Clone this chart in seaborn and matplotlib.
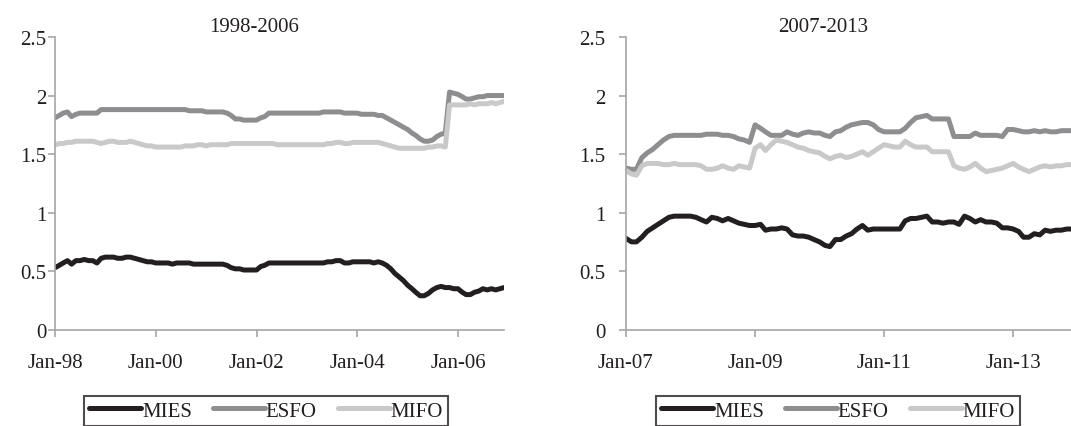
import matplotlib
matplotlib.use('Agg')
import numpy as np
import pandas as pd
import seaborn as sns
import matplotlib.pyplot as plt

# monthly values, Jan-98 .. Dec-06
mies_9806 = [0.53, 0.55, 0.57, 0.59, 0.56, 0.59, 0.59, 0.60, 0.59, 0.59, 0.57, 0.61,
             0.62, 0.62, 0.62, 0.61, 0.61, 0.62, 0.62, 0.61, 0.60, 0.59, 0.58, 0.58,
             0.57, 0.57, 0.57, 0.57, 0.56, 0.57, 0.57, 0.57, 0.57, 0.56, 0.56, 0.56,
             0.56, 0.56, 0.56, 0.56, 0.56, 0.55, 0.53, 0.52, 0.52, 0.51, 0.51, 0.51,
             0.51, 0.54, 0.55, 0.57, 0.57, 0.57, 0.57, 0.57, 0.57, 0.57, 0.57, 0.57,
             0.57, 0.57, 0.57, 0.57, 0.57, 0.58, 0.58, 0.59, 0.59, 0.57, 0.57, 0.58,
             0.58, 0.58, 0.58, 0.58, 0.57, 0.58, 0.57, 0.55, 0.52, 0.48, 0.45, 0.42,
             0.38, 0.35, 0.32, 0.29, 0.29, 0.31, 0.34, 0.36, 0.37, 0.36, 0.36, 0.35,
             0.35, 0.32, 0.30, 0.30, 0.32, 0.33, 0.35, 0.34, 0.35, 0.34, 0.35, 0.36]
esfo_9806 = [1.81, 1.83, 1.85, 1.86, 1.82, 1.84, 1.85, 1.85, 1.85, 1.85, 1.85, 1.88,
             1.88, 1.88, 1.88, 1.88, 1.88, 1.88, 1.88, 1.88, 1.88, 1.88, 1.88, 1.88,
             1.88, 1.88, 1.88, 1.88, 1.88, 1.88, 1.88, 1.88, 1.87, 1.87, 1.87, 1.87,
             1.86, 1.86, 1.86, 1.86, 1.86, 1.85, 1.83, 1.80, 1.80, 1.79, 1.79, 1.79,
             1.79, 1.81, 1.82, 1.85, 1.85, 1.85, 1.85, 1.85, 1.85, 1.85, 1.85, 1.85,
             1.85, 1.85, 1.85, 1.85, 1.86, 1.86, 1.86, 1.86, 1.86, 1.85, 1.85, 1.85,
             1.85, 1.84, 1.84, 1.84, 1.84, 1.83, 1.83, 1.81, 1.79, 1.77, 1.75, 1.73,
             1.71, 1.68, 1.66, 1.63, 1.61, 1.61, 1.62, 1.65, 1.67, 1.68, 2.03, 2.02,
             2.01, 1.99, 1.97, 1.97, 1.98, 1.99, 1.99, 2.00, 2.00, 2.00, 2.00, 2.00]
mifo_9806 = [1.58, 1.59, 1.59, 1.60, 1.60, 1.61, 1.61, 1.61, 1.61, 1.61, 1.60, 1.59,
             1.60, 1.61, 1.61, 1.60, 1.60, 1.60, 1.61, 1.60, 1.59, 1.58, 1.57, 1.57,
             1.56, 1.56, 1.56, 1.56, 1.56, 1.56, 1.56, 1.57, 1.57, 1.57, 1.58, 1.58,
             1.57, 1.58, 1.58, 1.58, 1.58, 1.58, 1.59, 1.59, 1.59, 1.59, 1.59, 1.59,
             1.59, 1.59, 1.59, 1.59, 1.59, 1.58, 1.58, 1.58, 1.58, 1.58, 1.58, 1.58,
             1.58, 1.58, 1.58, 1.58, 1.58, 1.59, 1.59, 1.60, 1.60, 1.59, 1.59, 1.60,
             1.60, 1.60, 1.60, 1.60, 1.60, 1.60, 1.59, 1.58, 1.57, 1.56, 1.55, 1.55,
             1.55, 1.55, 1.55, 1.55, 1.55, 1.56, 1.56, 1.57, 1.57, 1.56, 1.92, 1.92,
             1.92, 1.92, 1.92, 1.93, 1.92, 1.93, 1.93, 1.93, 1.94, 1.93, 1.94, 1.95]

# monthly values, Jan-07 .. Dec-13
mies_0713 = [0.78, 0.75, 0.75, 0.79, 0.84, 0.87, 0.90, 0.93, 0.96, 0.97, 0.97, 0.97,
             0.97, 0.96, 0.94, 0.92, 0.96, 0.95, 0.93, 0.95, 0.93, 0.91, 0.90, 0.89,
             0.89, 0.90, 0.85, 0.86, 0.86, 0.87, 0.86, 0.81, 0.80, 0.80, 0.79, 0.77,
             0.75, 0.72, 0.71, 0.77, 0.77, 0.80, 0.82, 0.86, 0.89, 0.85, 0.86, 0.86,
             0.86, 0.86, 0.86, 0.86, 0.93, 0.95, 0.95, 0.96, 0.97, 0.92, 0.92, 0.91,
             0.92, 0.92, 0.90, 0.97, 0.95, 0.92, 0.94, 0.92, 0.92, 0.91, 0.87, 0.87,
             0.86, 0.84, 0.79, 0.79, 0.82, 0.81, 0.85, 0.84, 0.85, 0.85, 0.86, 0.86]
esfo_0713 = [1.38, 1.37, 1.37, 1.47, 1.51, 1.54, 1.58, 1.62, 1.65, 1.66, 1.66, 1.66,
             1.66, 1.66, 1.66, 1.67, 1.67, 1.67, 1.66, 1.66, 1.65, 1.63, 1.62, 1.60,
             1.75, 1.72, 1.69, 1.66, 1.66, 1.66, 1.69, 1.67, 1.66, 1.68, 1.69, 1.68,
             1.68, 1.66, 1.65, 1.69, 1.70, 1.73, 1.75, 1.76, 1.77, 1.77, 1.75, 1.71,
             1.69, 1.69, 1.69, 1.69, 1.72, 1.77, 1.81, 1.82, 1.83, 1.80, 1.80, 1.80,
             1.80, 1.65, 1.65, 1.65, 1.65, 1.68, 1.66, 1.66, 1.66, 1.66, 1.65, 1.71,
             1.71, 1.70, 1.69, 1.69, 1.70, 1.69, 1.70, 1.69, 1.69, 1.70, 1.70, 1.70]
mifo_0713 = [1.36, 1.33, 1.32, 1.40, 1.42, 1.42, 1.42, 1.41, 1.41, 1.42, 1.41, 1.41,
             1.41, 1.41, 1.40, 1.37, 1.37, 1.38, 1.40, 1.38, 1.37, 1.40, 1.39, 1.38,
             1.55, 1.58, 1.53, 1.58, 1.62, 1.61, 1.60, 1.58, 1.56, 1.55, 1.53, 1.52,
             1.51, 1.48, 1.46, 1.48, 1.49, 1.47, 1.48, 1.50, 1.52, 1.49, 1.52, 1.55,
             1.58, 1.57, 1.56, 1.56, 1.61, 1.58, 1.56, 1.56, 1.56, 1.52, 1.52, 1.52,
             1.52, 1.40, 1.38, 1.37, 1.39, 1.42, 1.38, 1.35, 1.36, 1.37, 1.38, 1.40,
             1.42, 1.39, 1.37, 1.35, 1.37, 1.39, 1.40, 1.39, 1.40, 1.40, 1.41, 1.41]

series_names = ['MIES', 'ESFO', 'MIFO']
colors = ['#231f20', '#8e8e90', '#c9c9c9']
panels = [
    ('1998-2006', '1998-01', [mies_9806, esfo_9806, mifo_9806]),
    ('2007-2013', '2007-01', [mies_0713, esfo_0713, mifo_0713]),
]

sns.set_style('white')
plt.rcParams['font.family'] = ['Liberation Serif', 'DejaVu Serif']
plt.rcParams['text.color'] = '#231f20'
plt.rcParams['xtick.color'] = '#231f20'
plt.rcParams['ytick.color'] = '#231f20'

fig = plt.figure(figsize=(10.71, 4.27), dpi=100)
axes = [fig.add_axes([0.0514, 0.2255, 0.4192, 0.6855]),
        fig.add_axes([0.5845, 0.2255, 0.4165, 0.6855])]
legend_x = [0.2484, 0.7824]
ylabel_pad = [1, 10]

for ax, (title, start, values), lx, ypad in zip(axes, panels, legend_x, ylabel_pad):
    dates = pd.date_range(start, periods=len(values[0]), freq='MS')
    df = pd.DataFrame({
        'date': np.tile(dates, len(series_names)),
        'value': np.concatenate(values),
        'series': np.repeat(series_names, len(dates)),
    })
    sns.lineplot(data=df, x='date', y='value', hue='series', hue_order=series_names,
                 palette=colors, linewidth=3.6, ax=ax,
                 solid_capstyle='round', solid_joinstyle='round')

    ax.set_xlim(dates[0], dates[-1])
    ax.set_ylim(0, 2.5)
    ax.set_yticks([0, 0.5, 1, 1.5, 2, 2.5])
    ax.set_yticklabels(['0', '0.5', '1', '1.5', '2', '2.5'])
    ticks = dates[::24]
    ax.set_xticks(ticks)
    ax.set_xticklabels([d.strftime('%b-%y') for d in ticks])
    ax.set_xlabel('')
    ax.set_ylabel('')
    ax.set_title(title, x=0.443, pad=4, fontsize=15)

    for side in ['top', 'right']:
        ax.spines[side].set_visible(False)
    for side in ['left', 'bottom']:
        ax.spines[side].set_color('#a6a6a6')
        ax.spines[side].set_linewidth(1.2)
    ax.tick_params(axis='both', direction='out', length=5, width=1.2,
                   color='#a6a6a6', labelsize=15)
    ax.tick_params(axis='x', pad=12)
    ax.tick_params(axis='y', pad=ypad)
    ax.tick_params(left=True, bottom=True)

    sns.move_legend(ax, 'upper center', bbox_to_anchor=(lx, 0.0703),
                    bbox_transform=fig.transFigure, ncol=3, title=None,
                    frameon=True, fancybox=False, fontsize=15,
                    handlelength=2.5, handletextpad=0.05, columnspacing=1.0,
                    borderpad=0.25, borderaxespad=0)
    leg = ax.get_legend()
    leg.get_frame().set_edgecolor('#231f20')
    leg.get_frame().set_linewidth(1.5)
    for line in leg.get_lines():
        line.set_linewidth(3.6)

fig.savefig('out.png', dpi=100)
